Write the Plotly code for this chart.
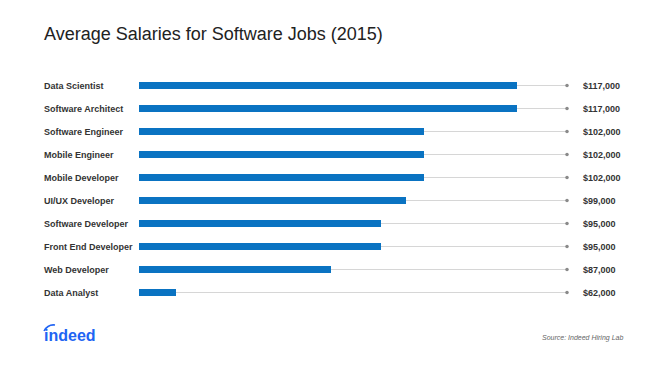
import plotly.graph_objects as go

# ---- data ----
jobs = ["Data Scientist", "Software Architect", "Software Engineer", "Mobile Engineer",
        "Mobile Developer", "UI/UX Developer", "Software Developer", "Front End Developer",
        "Web Developer", "Data Analyst"]
salaries = [117000, 117000, 102000, 102000, 102000, 99000, 95000, 95000, 87000, 62000]
value_labels = ["$117,000", "$117,000", "$102,000", "$102,000", "$102,000",
                "$99,000", "$95,000", "$95,000", "$87,000", "$62,000"]
axis_min = 56000
axis_max = 125000

W, H = 665, 369
ML, MR, MT, MB = 139, 98, 74, 65
PW = W - ML - MR
PH = H - MT - MB

def px_x(px):
    return (px - ML) / PW

def px_y(py):
    return (H - MB - py) / PH

fig = go.Figure()

# end dots
fig.add_trace(go.Scatter(x=[axis_max] * len(jobs), y=jobs, mode="markers",
                         marker=dict(color="#8a8a8a", size=3.5),
                         hoverinfo="skip", showlegend=False, cliponaxis=False))
# blue bars
fig.add_trace(go.Bar(x=salaries, y=jobs, orientation="h", width=0.27,
                     marker=dict(color="#0a73c2", line=dict(width=0)),
                     showlegend=False))

shapes = []
for j in jobs:
    shapes.append(dict(type="line", xref="x", yref="y", x0=axis_min, x1=axis_max,
                       y0=j, y1=j, layer="below",
                       line=dict(color="#d6d6d6", width=1)))

annotations = []
for j, lab in zip(jobs, value_labels):
    annotations.append(dict(x=px_x(42), xref="paper", y=j, yref="y",
                            text="<b>" + j + "</b>", showarrow=False,
                            xanchor="left", yanchor="middle",
                            font=dict(family="Liberation Sans, Arial", size=9, color="#333333")))
    annotations.append(dict(x=px_x(581), xref="paper", y=j, yref="y",
                            text="<b>" + lab + "</b>", showarrow=False,
                            xanchor="left", yanchor="middle",
                            font=dict(family="Liberation Sans, Arial", size=9, color="#333333")))

annotations.append(dict(x=px_x(625), xref="paper", y=px_y(338), yref="paper",
                        text="<i>Source: Indeed Hiring Lab</i>", showarrow=False,
                        xanchor="right", yanchor="middle",
                        font=dict(family="Liberation Sans, Arial", size=7, color="#666666")))
annotations.append(dict(x=px_x(42), xref="paper", y=px_y(335), yref="paper",
                        text="<b>indeed</b>", showarrow=False,
                        xanchor="left", yanchor="middle",
                        font=dict(family="Liberation Sans, Arial", size=16, color="#2164f3")))

# small arc over the "i" of the logo
shapes.append(dict(type="path", xref="paper", yref="paper",
                   path="M {x0},{y0} Q {xc},{yc} {x1},{y1}".format(
                       x0=px_x(44), y0=px_y(331), xc=px_x(48), yc=px_y(324),
                       x1=px_x(55), y1=px_y(325)),
                   line=dict(color="#2164f3", width=1.5)))

fig.update_layout(
    width=W, height=H,
    margin=dict(l=ML, r=MR, t=MT, b=MB, autoexpand=False),
    paper_bgcolor="white", plot_bgcolor="white",
    title=dict(text="Average Salaries for Software Jobs (2015)",
               x=44 / W, xanchor="left", xref="container",
               y=1 - 34 / H, yanchor="middle", yref="container",
               font=dict(family="Liberation Sans, Arial", size=18, color="#222222")),
    xaxis=dict(range=[axis_min, axis_max], visible=False, fixedrange=True),
    yaxis=dict(categoryorder="array", categoryarray=jobs,
               range=[len(jobs) - 0.5, -0.5], autorange=False,
               visible=False, fixedrange=True),
    annotations=annotations,
    shapes=shapes,
    bargap=0,
)

fig.write_html("out.html", config={"displayModeBar": False},
               post_script="document.body.style.margin='0';")
